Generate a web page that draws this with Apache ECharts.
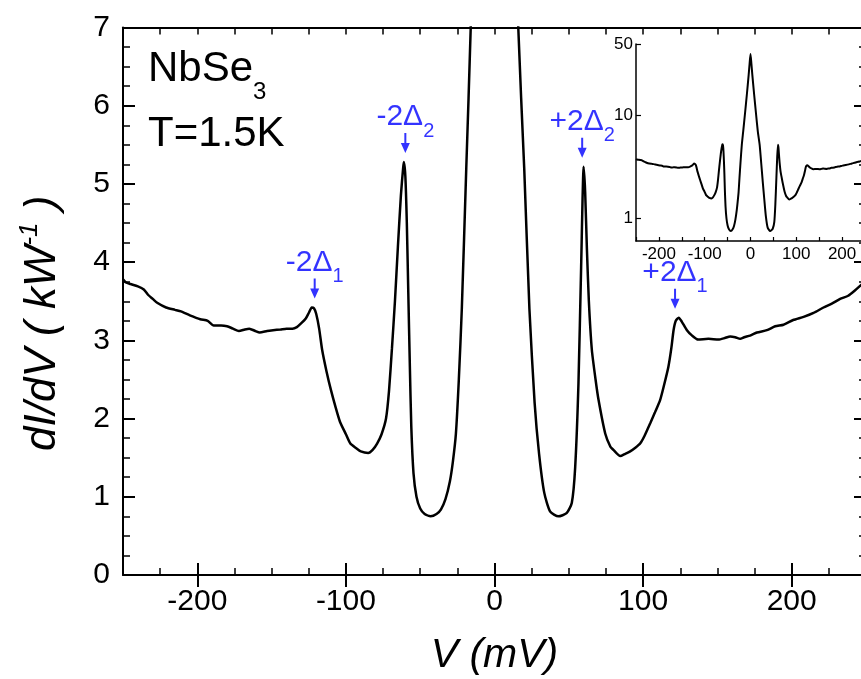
<!DOCTYPE html>
<html>
<head>
<meta charset="utf-8">
<script src="https://cdn.jsdelivr.net/npm/echarts@6/dist/echarts.min.js"></script>
<style>
  html, body { margin: 0; padding: 0; background: #fff; }
  #chart { width: 861px; height: 679px; }
</style>
</head>
<body>
<div id="chart"></div>
<script>
// bias voltage (mV) and differential conductance dI/dV (1/kOhm)
const V = [
  -250, -248, -245, -240, -236, -233, -230, -227, -221, -215, -211, -205, -198, -193, -189, -184,
  -180, -176, -172, -168, -165, -161, -158, -153, -149, -144, -140, -136, -133, -130, -127, -125,
  -123, -121.5, -120, -118, -116, -113, -110, -107, -104, -100, -97, -93, -90, -85, -82, -79,
  -76, -73, -71, -69, -67, -65, -63, -61.5, -61, -60, -59, -58, -57, -56, -54.5, -52.5,
  -50, -47, -43, -39, -36, -33, -30, -28, -26, -24, -22, -19, -16, -12, -8, -4,
  -2, 0, 2, 4, 8, 12, 16, 20, 23.5, 27, 30, 33.5, 37.5, 43, 48.5, 52,
  54.3, 56.5, 58.3, 60, 61, 62.2, 63.5, 65.5, 68, 70, 74.5, 78, 80, 84.6, 88, 91.3,
  95, 98, 101, 104.8, 108, 111.5, 114, 117, 119, 120.5, 122, 124, 126, 129.5, 133, 137,
  144, 150.7, 155, 158.6, 162, 165.3, 168, 172, 176.6, 183.3, 188.9, 194.5, 201, 208, 214.7, 221.4,
  227, 232.6, 238, 242.7, 246.8, 250
]
const dIdV = [
  3.78, 3.74, 3.72, 3.69, 3.65, 3.58, 3.53, 3.48, 3.42, 3.39, 3.37, 3.32, 3.27, 3.25, 3.19, 3.19,
  3.18, 3.15, 3.12, 3.14, 3.15, 3.12, 3.10, 3.12, 3.13, 3.14, 3.15, 3.15, 3.17, 3.22, 3.28, 3.35,
  3.42, 3.41, 3.34, 3.15, 2.88, 2.60, 2.36, 2.15, 1.96, 1.80, 1.68, 1.62, 1.58, 1.56, 1.60, 1.68,
  1.80, 2.00, 2.35, 2.90, 3.50, 4.20, 4.85, 5.20, 5.28, 5.10, 4.50, 3.60, 2.70, 1.90, 1.30, 1.00,
  0.85, 0.78, 0.75, 0.78, 0.84, 0.97, 1.20, 1.45, 1.80, 2.50, 3.40, 5.20, 7.00, 10.5, 16, 25,
  32, 40, 32, 25, 16, 10.5, 7.0, 5.2, 3.4, 2.2, 1.55, 1.05, 0.81, 0.75, 0.79, 0.92,
  1.38, 2.45, 3.94, 5.22, 4.90, 4.16, 3.50, 2.88, 2.50, 2.24, 1.81, 1.64, 1.60, 1.52, 1.55, 1.58,
  1.63, 1.68, 1.78, 1.94, 2.08, 2.24, 2.42, 2.66, 2.90, 3.13, 3.25, 3.29, 3.24, 3.13, 3.06, 3.01,
  3.02, 3.01, 3.03, 3.05, 3.04, 3.02, 3.04, 3.06, 3.10, 3.13, 3.18, 3.20, 3.26, 3.30, 3.35, 3.42,
  3.47, 3.53, 3.57, 3.64, 3.71, 3.76
]

// gap features marked with arrows
const gapSign  = ['-2Δ', '-2Δ', '+2Δ', '+2Δ']
const gapIndex = ['1', '2', '2', '1']
const gapV     = [-121, -60, 59, 121.5]
const gapY     = [3.42, 5.28, 5.22, 3.29]

const mainXLabels  = [-200, -100, 0, 100, 200]
const insetXLabels = [-200, -100, 0, 100, 200]

const FONT = 'Liberation Sans, Arial, sans-serif'
const BLUE = '#0000ff'
const curve = V.map((v, i) => [v, dIdV[i]])
const gaps  = gapV.map((v, i) => [v, gapY[i]])

const ARROW = 'path://M-1,0 L1,0 L1,10 L4.5,10 L0,20 L-4.5,10 L-1,10 Z'

// main x axis: minor ticks every 25 on one axis, majors on an overlay axis
function xMinor(position, withLabels) {
  return {
    gridIndex: 0, type: 'value', position, min: -250, max: 250, interval: 25,
    axisLine: { show: true, onZero: false, lineStyle: { color: '#000', width: 2 } },
    axisTick: { show: true, inside: true, length: 7, lineStyle: { color: '#000', width: 1.5 } },
    axisLabel: withLabels
      ? { show: true, customValues: mainXLabels, color: '#000', fontSize: 30, margin: 12, fontFamily: FONT }
      : { show: false },
    splitLine: { show: false },
    ...(withLabels ? {
      name: 'V (mV)', nameLocation: 'middle', nameGap: 60,
      nameTextStyle: { fontSize: 41, fontStyle: 'italic', color: '#000', fontFamily: FONT },
    } : {}),
  }
}
function xMajor(position) {
  return {
    gridIndex: 0, type: 'value', position, min: -250, max: 250,
    axisLine: { show: false },
    axisTick: { show: true, inside: true, length: 12, customValues: mainXLabels, lineStyle: { color: '#000', width: 2 } },
    axisLabel: { show: false },
    splitLine: { show: false },
  }
}
function yMain(position, withLabels) {
  return {
    gridIndex: 0, type: 'value', position, min: 0, max: 7, interval: 1,
    axisLine: { show: true, onZero: false, lineStyle: { color: '#000', width: 2 } },
    axisTick: { show: true, inside: true, length: 12, lineStyle: { color: '#000', width: 2 } },
    minorTick: { show: true, splitNumber: 4, length: 7, lineStyle: { color: '#000', width: 1.5 } },
    axisLabel: withLabels
      ? { show: true, color: '#000', fontSize: 30, margin: 13, fontFamily: FONT }
      : { show: false },
    splitLine: { show: false },
    ...(withLabels ? {
      name: '{i|dI/dV ( kW}{s|-1}{i| )}', nameLocation: 'middle', nameGap: 58, nameRotate: 90,
      nameTextStyle: {
        padding: [0, 44, 0, 0],
        rich: {
          i: { fontSize: 44, fontStyle: 'italic', color: '#000', fontFamily: FONT, verticalAlign: 'bottom' },
          s: { fontSize: 26, fontStyle: 'italic', color: '#000', fontFamily: FONT, verticalAlign: 'bottom', padding: [0, 0, 22, 0] },
        },
      },
    } : {}),
  }
}

const option = {
  animation: false,
  backgroundColor: '#fff',
  textStyle: { fontFamily: FONT },
  grid: [
    { left: 123, top: 27.5, right: -5, bottom: 104, outerBoundsMode: 'none', containLabel: false },
    { left: 636, top: 44, right: -4, bottom: 438, outerBoundsMode: 'none', containLabel: false },
  ],
  xAxis: [
    xMinor('bottom', true),
    xMajor('bottom'),
    xMinor('top', false),
    xMajor('top'),
    {
      gridIndex: 1, type: 'value', position: 'bottom', min: -250, max: 250, interval: 50,
      axisLine: { show: true, onZero: false, lineStyle: { color: '#000', width: 1.5 } },
      axisTick: { show: true, inside: true, length: 4, lineStyle: { color: '#000', width: 1.2 } },
      axisLabel: { show: true, customValues: insetXLabels, color: '#000', fontSize: 17, margin: 5, fontFamily: FONT },
      splitLine: { show: false },
    },
  ],
  yAxis: [
    yMain('left', true),
    yMain('right', false),
    {
      gridIndex: 1, type: 'log', logBase: 10, min: 0.6, max: 50,
      axisLine: { show: true, onZero: false, lineStyle: { color: '#000', width: 1.5 } },
      axisTick: { show: true, inside: true, length: 5, lineStyle: { color: '#000', width: 1.2 } },
      axisLabel: {
        show: true, color: '#000', fontSize: 17, margin: 3, fontFamily: FONT,
        showMinLabel: false, showMaxLabel: true,
        formatter: v => (v < 0.9 ? '' : String(Math.round(v))),
      },
      splitLine: { show: false },
    },
  ],
  series: [
    {
      type: 'line', xAxisIndex: 0, yAxisIndex: 0, data: curve,
      showSymbol: false, smooth: 0.2, clip: true,
      lineStyle: { color: '#000', width: 2.5 },
    },
    {
      type: 'scatter', xAxisIndex: 0, yAxisIndex: 0, data: gaps,
      symbol: ARROW, symbolSize: [9, 20], symbolOffset: [0, -19],
      itemStyle: { color: BLUE },
      label: {
        show: true, position: 'top', distance: -8,
        formatter: p => `{m|${gapSign[p.dataIndex]}}{s|${gapIndex[p.dataIndex]}}`,
        rich: {
          m: { fontSize: 30, color: BLUE, fontFamily: FONT, verticalAlign: 'bottom', padding: [0, 0, 9, 0] },
          s: { fontSize: 20, color: BLUE, fontFamily: FONT, verticalAlign: 'bottom' },
        },
      },
    },
    {
      type: 'line', xAxisIndex: 4, yAxisIndex: 2, data: curve,
      showSymbol: false, smooth: 0.2, clip: true,
      lineStyle: { color: '#000', width: 2, join: 'round' },
    },
  ],
  graphic: [
    {
      type: 'text', left: 148, top: 48,
      style: {
        text: '{a|NbSe}{b|3}',
        rich: {
          a: { fontSize: 42, fill: '#000', fontFamily: FONT, verticalAlign: 'bottom', padding: [0, 0, 14, 0] },
          b: { fontSize: 24, fill: '#000', fontFamily: FONT, verticalAlign: 'bottom' },
        },
      },
    },
    {
      type: 'text', left: 148, top: 113,
      style: { text: 'T=1.5K', fontSize: 42, fill: '#000', fontFamily: FONT },
    },
  ],
}

const chart = echarts.init(document.getElementById('chart'))
chart.setOption(option)
</script>
</body>
</html>
